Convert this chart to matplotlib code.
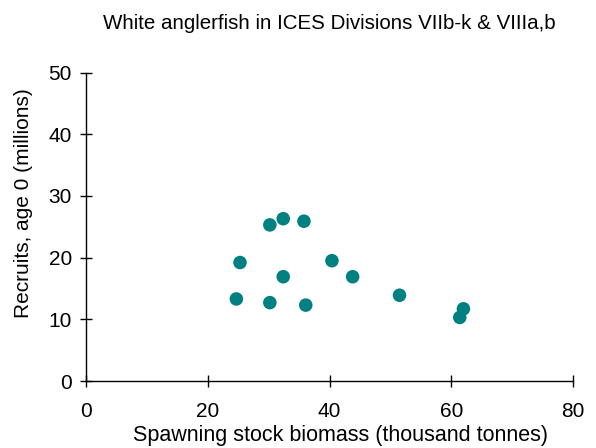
import matplotlib
matplotlib.use('Agg')
import matplotlib.pyplot as plt

plt.rcParams['font.family'] = ['Liberation Sans', 'DejaVu Sans']

# spawning stock biomass (thousand tonnes) and recruits at age 0 (millions)
ssb = [30.2, 32.4, 35.8, 25.3, 40.4, 32.4, 43.8, 24.7, 30.2, 36.1, 51.5, 62.0, 61.4]
recruits = [25.3, 26.3, 25.9, 19.2, 19.5, 16.9, 16.9, 13.3, 12.7, 12.3, 13.9, 11.7, 10.3]

x_ticks = [0, 20, 40, 60, 80]
y_ticks = [0, 10, 20, 30, 40, 50]

fig = plt.figure(figsize=(5.96, 4.48), dpi=100)
ax = fig.add_axes([86 / 596, 1 - 381 / 448, (573 - 86) / 596, (381 - 72.5) / 448])

ax.scatter(ssb, recruits, s=95, color='#008080', edgecolors='none', zorder=3, clip_on=False)

ax.set_xlim(0, 80)
ax.set_ylim(0, 50)
ax.set_xticks(x_ticks)
ax.set_yticks(y_ticks)

for side in ['top', 'right']:
    ax.spines[side].set_visible(False)
for side in ['left', 'bottom']:
    ax.spines[side].set_linewidth(1.0)
    ax.spines[side].set_color('black')

ax.tick_params(axis='both', direction='inout', length=8.5, width=1.0, labelsize=15)
ax.tick_params(axis='x', pad=11)
ax.tick_params(axis='y', pad=6)

ax.set_xlabel('Spawning stock biomass (thousand tonnes)', fontsize=15.5)
ax.set_ylabel('Recruits, age 0 (millions)', fontsize=15)
# labels in the original sit off-centre
ax.xaxis.set_label_coords(0.522, -0.142)
ax.yaxis.set_label_coords(-0.108, 0.577)
ax.set_title('White anglerfish in ICES Divisions VIIb-k & VIIIa,b', fontsize=14.8, pad=31)

fig.savefig('out.png', dpi=100)
